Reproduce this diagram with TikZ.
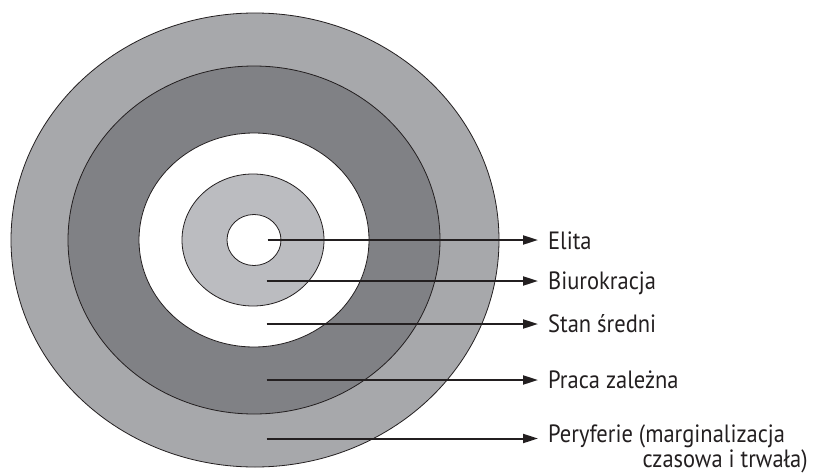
\documentclass[tikz,border=0pt]{standalone}
\usepackage{fontspec}
\setmainfont{PT Sans}
\usetikzlibrary{arrows.meta}
\definecolor{ringA}{HTML}{A7A8AB}
\definecolor{ringB}{HTML}{808185}
\definecolor{ringC}{HTML}{BBBCC0}
\definecolor{ink}{HTML}{231F20}
\begin{document}
\begin{tikzpicture}[x=1pt,y=-1pt,
  ring/.style={draw=ink,line width=0.8pt},
  lab/.style={anchor=base west,inner sep=0pt,xscale=0.9,font=\fontsize{25}{22}\selectfont,text=ink},
  conn/.style={draw=ink,line width=2pt,-{Triangle[length=15pt,width=9pt]},shorten >=10pt}]
\useasboundingbox (0,0) rectangle (817,474);
\fill[white] (0,0) rectangle (817,474);
\draw[ring,fill=ringA] (255,240) ellipse [x radius=244,y radius=227];
\draw[ring,fill=ringB] (254,240) ellipse [x radius=186,y radius=174];
\draw[ring,fill=white] (254,240) ellipse [x radius=115,y radius=107];
\draw[ring,fill=ringC] (253,240) ellipse [x radius=71,y radius=66];
\draw[ring,fill=white] (254,240) ellipse [x radius=27,y radius=25.5];
\coordinate (s1) at (267.5,240);
\coordinate (s2) at (266.5,281);
\coordinate (s3) at (266.5,324);
\coordinate (s4) at (266.5,380);
\coordinate (s5) at (266.5,438.5);
\node[lab] (l1) at (548,249.5) {Elita};
\node[lab] (l2) at (548,289.5) {Biurokracja};
\node[lab] (l3) at (548,332.5) {Stan średni};
\node[lab] (l4) at (548,388.5) {Praca zależna};
\node[lab,align=left] (l5) at (548,467) {Peryferie (marginalizacja\\\hspace*{105pt}czasowa i trwała)};
\draw[conn] (s1) -- (s1 -| l1.west);
\draw[conn] (s2) -- (s2 -| l2.west);
\draw[conn] (s3) -- (s3 -| l3.west);
\draw[conn] (s4) -- (s4 -| l4.west);
\draw[conn] (s5) -- (s5 -| l5.west);
\end{tikzpicture}
\end{document}
